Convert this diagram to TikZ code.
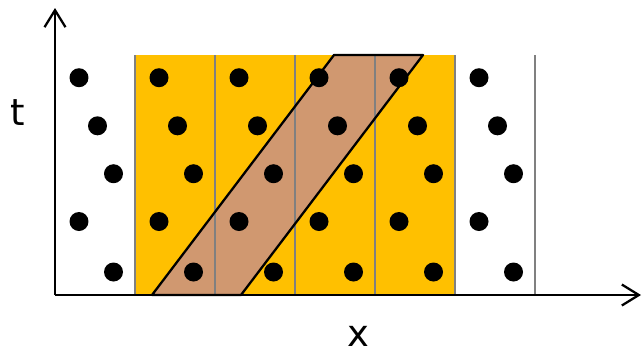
\documentclass[tikz,border=0pt]{standalone}
\usepackage{fontspec}
\setmainfont{DejaVu Sans}
\definecolor{slabgold}{RGB}{255,192,0}
\definecolor{slabtan}{RGB}{208,152,112}
\definecolor{slabgray}{RGB}{128,128,128}
\usetikzlibrary{arrows.meta}

\begin{document}
\begin{tikzpicture}[x=0.02cm,y=-0.02cm,
    site/.style={circle,fill=black,inner sep=0pt,minimum size=0.38cm},
    cellwall/.style={draw=slabgray,line width=1.5pt},
    axis/.style={line width=1.3pt,-{Straight Barb[length=0.34cm,width=0.42cm,line width=1.3pt]}},
    axislabel/.style={font=\fontsize{21}{24}\selectfont,inner sep=0pt}]
  \useasboundingbox (0,0) rectangle (642,353);
  \fill[slabgold] (135,55) rectangle (455,295);
  \coordinate (bl) at (152,295);
  \coordinate (br) at (241,295);
  \coordinate (tr) at (423,55);
  \coordinate (tl) at (334,55);
  \fill[slabtan] (bl) -- (br) -- (tr) -- (tl) -- cycle;
  \foreach \k in {0,...,5}
    \draw[cellwall] (135+80*\k,55) -- (135+80*\k,295);
  \draw[line width=1.3pt,line join=round] (bl) -- (br) -- (tr) -- (tl) -- cycle;
  \coordinate (origin) at (55,295);
  \coordinate (ttip) at (55,8);
  \coordinate (xtip) at (641,295);
  \draw[axis] (origin) -- (ttip);
  \draw[axis] (origin) -- (xtip);
  \node[axislabel] (tlabel) at (18,113) {t};
  \node[axislabel] (xlabel) at (358,336) {x};
  \foreach \c in {0,...,5}
    \foreach \dx/\dy [count=\r] in {24/77.7,42.5/125.8,58.5/173.7,24/221.5,58.5/272}
      \node[site] (dot-\c-\r) at (55+80*\c+\dx,\dy) {};
\end{tikzpicture}
\end{document}
